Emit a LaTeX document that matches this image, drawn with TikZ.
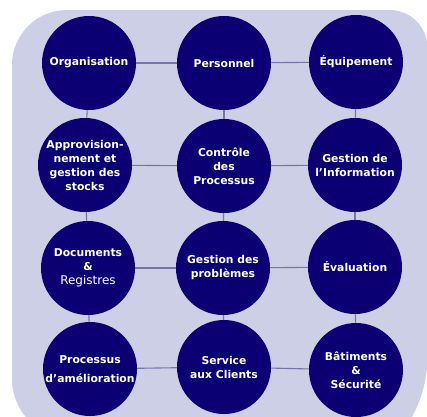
\documentclass[tikz,border=0pt]{standalone}
\usepackage{fontspec}
\setmainfont{DejaVu Sans}
\definecolor{cnode}{RGB}{10,0,115}
\definecolor{cback}{RGB}{205,207,230}
\definecolor{clink}{RGB}{116,118,168}
\tikzset{
  topic/.style={circle,fill=cnode,minimum size=94pt,inner sep=0pt,text=white,align=center,font=\bfseries\fontsize{10.8}{14}\selectfont},
  link/.style={clink,line width=1.1pt}
}

\begin{document}
\begin{tikzpicture}[x=1pt,y=-1pt]
\useasboundingbox (0,0) rectangle (427,416);
\fill[cback] (12,65) arc[start angle=180,end angle=270,radius=55] -- (389.5,10) arc[start angle=270,end angle=360,radius=38] -- (427.5,356) arc[start angle=0,end angle=90,radius=127.5] -- (71,438) arc[start angle=90,end angle=180,radius=59] -- cycle;
\node[topic] (org) at (89,63) {Organisation};
\node[topic] (pers) at (224,63) {Personnel};
\node[topic] (equip) at (356,62) {Équipement};
\node[topic] (appro) at (85,165) {Approvision-\\nement et\\gestion des\\stocks};
\node[topic] (ctrl) at (224,166) {Contrôle\\des\\Processus};
\node[topic] (info) at (355,165) {Gestion de\\l'Information};
\node[topic] (docs) at (88,268) {Documents\\\&\\{\mdseries\fontsize{12}{14}\selectfont Registres}};
\node[topic] (prob) at (223,268) {Gestion des\\problèmes};
\node[topic] (eval) at (355,267) {Évaluation};
\node[topic] (amel) at (90,369) {Processus\\[5pt]d'amélioration};
\node[topic] (serv) at (224,367) {Service\\aux Clients};
\node[topic] (bat) at (356,370) {Bâtiments\\\&\\Sécurité};
\draw[link] (org) -- (pers);
\draw[link] (pers) -- (equip);
\draw[link] (appro) -- (ctrl);
\draw[link] (ctrl) -- (info);
\draw[link] (docs) -- (prob);
\draw[link] (prob) -- (eval);
\draw[link] (amel) -- (serv);
\draw[link] (serv) -- (bat);
\draw[link] (org) -- (appro);
\draw[link] (appro) -- (docs);
\draw[link] (docs) -- (amel);
\draw[link] (pers) -- (ctrl);
\draw[link] (ctrl) -- (prob);
\draw[link] (prob) -- (serv);
\draw[link] (equip) -- (info);
\draw[link] (info) -- (eval);
\draw[link] (eval) -- (bat);
\end{tikzpicture}
\end{document}
